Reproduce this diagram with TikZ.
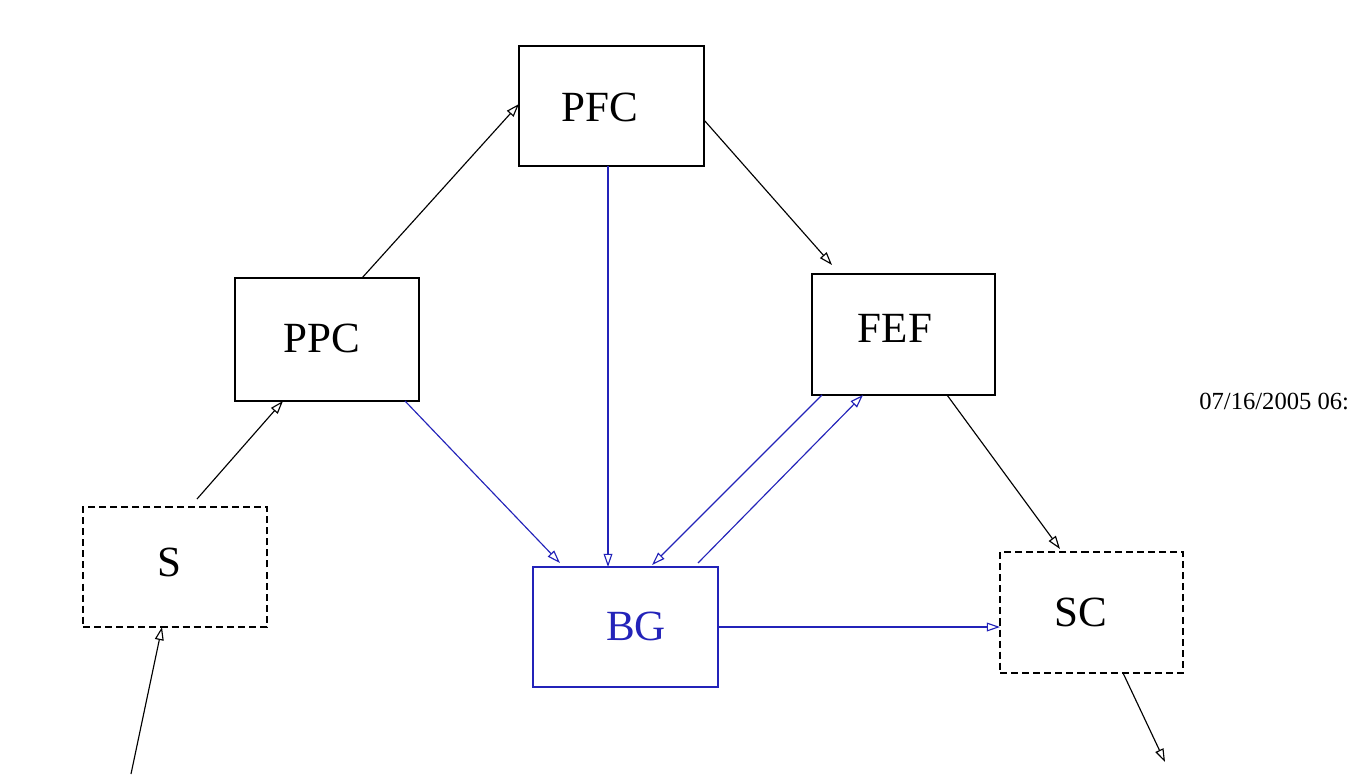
\documentclass[tikz,border=0pt]{standalone}
\usepackage{fontspec}
\setmainfont{Liberation Serif}
\usetikzlibrary{arrows.meta,calc}
\definecolor{bgblue}{RGB}{35,35,185}
\tikzset{
  box/.style={draw, line width=1.1pt, inner sep=0pt, outer sep=0pt, anchor=north west,
              minimum width=#1*0.02cm, minimum height=2.4cm},
  dbox/.style={box=#1, dash pattern=on 4pt off 2.3pt},
  lbl/.style={font=\fontsize{24.5}{28}\selectfont, inner sep=0pt},
  conn/.style={line width=0.65pt, -{Triangle[open, length=7.5pt, width=5pt]}},
  bconn/.style={conn, draw=bgblue},
}
\begin{document}
\begin{tikzpicture}[x=0.02cm, y=-0.02cm]
\useasboundingbox (0,0) rectangle (1351,774);

% boxes
\node[box=185] (pfc) at (519,46) {};
\node[box=184, minimum height=2.46cm] (ppc) at (235,278) {};
\node[box=183, minimum height=2.42cm] (fef) at (812,274) {};
\node[dbox=184] (s) at (83,507) {};
\node[box=185, draw=bgblue] (bg) at (533,567) {};
\node[dbox=183, minimum height=2.42cm] (sc) at (1000,552) {};

% labels
\node[lbl] (pfc-t) at (600,107) {PFC};
\node[lbl] (ppc-t) at (322,338) {PPC};
\node[lbl] (fef-t) at (895,328) {FEF};
\node[lbl] (s-t) at (169,562) {S};
\node[lbl, text=bgblue] (bg-t) at (636,626) {BG};
\node[lbl] (sc-t) at (1081,612) {SC};

% time stamp
\node[anchor=west, inner sep=0pt, font=\fontsize{14}{17}\selectfont] (stamp) at (1199,401) {07/16/2005 06:};

% free ends
\coordinate (inS) at (131,774);
\coordinate (outSC) at (1165,762);

% black connectors
\draw[conn] (inS) -- ($(s.south west)+(79,0)$);
\draw[conn] ($(s.north west)+(114,-8)$) -- ($(ppc.south west)+(48,0)$);
\draw[conn] ($(ppc.north west)+(127,0)$) -- ($(pfc.north west)+(0,58)$);
\draw[conn] ($(pfc.north east)+(0,74)$) -- ($(fef.north west)+(20,-9)$);
\draw[conn] ($(fef.south west)+(135,0)$) -- ($(sc.north west)+(60,-3)$);
\draw[conn] ($(sc.south west)+(123,0)$) -- (outSC);

% blue connectors
\draw[bconn] ($(pfc.south west)+(89,0)$) -- ($(bg.north west)+(75,0)$);
\draw[bconn] ($(ppc.south west)+(170,0)$) -- ($(bg.north west)+(27,-4)$);
\draw[bconn] ($(fef.south west)+(10,0)$) -- ($(bg.north west)+(119,-2)$);
\draw[bconn] ($(bg.north west)+(165,-4)$) -- ($(fef.south west)+(51,0)$);
\draw[bconn] ($(bg.north east)+(0,60)$) -- ($(sc.north west)+(0,75)$);
\end{tikzpicture}
\end{document}
